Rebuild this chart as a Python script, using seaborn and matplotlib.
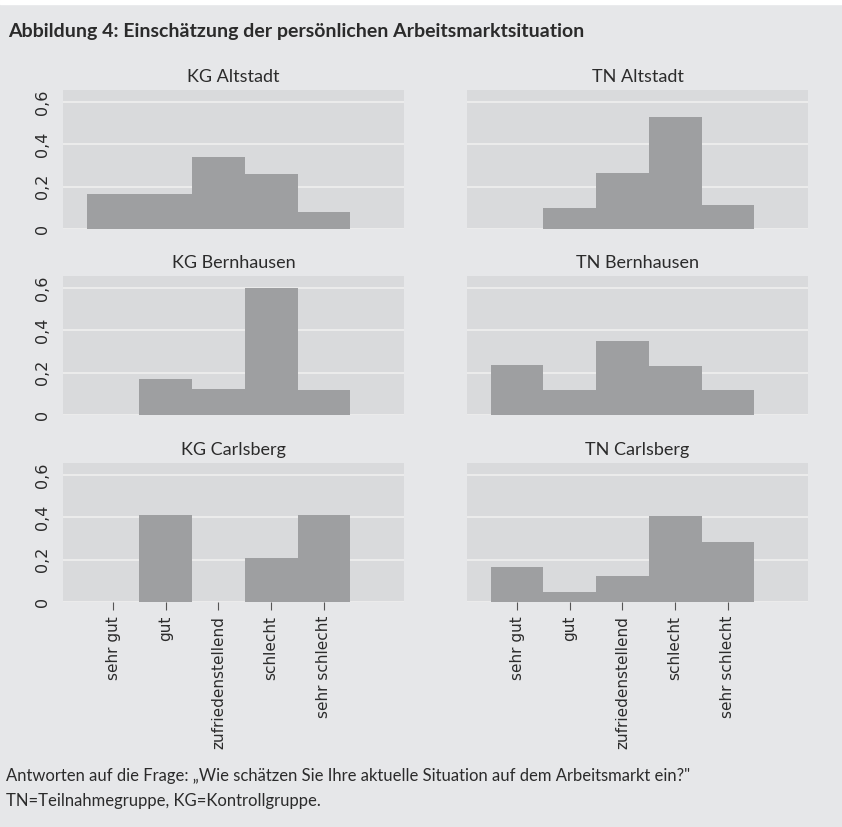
import pandas as pd
import matplotlib
matplotlib.use('Agg')
import matplotlib.pyplot as plt
from matplotlib import font_manager
from matplotlib.ticker import FuncFormatter
import seaborn as sns

# Antwortkategorien
categories = ['sehr gut', 'gut', 'zufriedenstellend', 'schlecht', 'sehr schlecht']

# Anteile je Gruppe
kg_altstadt = [0.165, 0.165, 0.34, 0.26, 0.08]
tn_altstadt = [0.0, 0.10, 0.264, 0.53, 0.113]
kg_bernhausen = [0.0, 0.17, 0.123, 0.60, 0.118]
tn_bernhausen = [0.235, 0.117, 0.348, 0.23, 0.117]
kg_carlsberg = [0.0, 0.41, 0.0, 0.208, 0.41]
tn_carlsberg = [0.165, 0.047, 0.123, 0.406, 0.283]

panels = ['KG Altstadt', 'TN Altstadt', 'KG Bernhausen', 'TN Bernhausen',
          'KG Carlsberg', 'TN Carlsberg']
values = [kg_altstadt, tn_altstadt, kg_bernhausen, tn_bernhausen,
          kg_carlsberg, tn_carlsberg]

rows = []
for name, vals in zip(panels, values):
    for cat, v in zip(categories, vals):
        rows.append({'gruppe': name, 'antwort': cat, 'anteil': v})
data = pd.DataFrame(rows)

fig_bg = '#e6e7e9'
panel_bg = '#d9dadc'
bar_col = '#9e9fa1'
text_col = '#2b2b2b'

installed = {f.name for f in font_manager.fontManager.ttflist}
def pick(*names):
    for n in names:
        if n in installed:
            return n
    return 'DejaVu Sans'

head = pick('Lato', 'Liberation Sans')
tick_font = 'DejaVu Sans'

sns.set_style('white')
plt.rcParams['font.family'] = [tick_font]

g = sns.FacetGrid(data, col='gruppe', col_wrap=2, col_order=panels,
                  sharex=True, sharey=True, height=2, aspect=1.5)
g.map_dataframe(sns.barplot, x='antwort', y='anteil', order=categories,
                width=1.0, color=bar_col, saturation=1, errorbar=None,
                linewidth=0)

fig = g.figure
fig.set_size_inches(8.42, 8.27)
fig.set_dpi(100)
fig.patch.set_facecolor(fig_bg)

W, H = 842.0, 827.0
lefts = [63, 467]
tops = [90, 276, 463]
pw, ph = 341, 139

fmt = FuncFormatter(lambda v, p: '0' if abs(v) < 1e-9 else f'{v:.1f}'.replace('.', ','))

for i, ax in enumerate(g.axes.flat):
    r, c = divmod(i, 2)
    ax.set_position([lefts[c] / W, 1 - (tops[r] + ph) / H, pw / W, ph / H])
    ax.set_facecolor(panel_bg)
    for s in ax.spines.values():
        s.set_visible(False)
    ax.set_xlim(-0.95, 5.52)
    ax.set_ylim(0, 0.657)
    ax.set_yticks([0, 0.2, 0.4, 0.6])
    ax.yaxis.set_major_formatter(fmt)
    ax.grid(axis='y', color='#ececec', linewidth=1.4)
    ax.set_axisbelow(True)
    ax.set_title(panels[i], fontsize=13, color=text_col, family=head, pad=6)
    ax.set_xlabel('')
    ax.set_ylabel('')
    ax.tick_params(axis='y', length=0, pad=9, labelsize=11.5, labelcolor=text_col)
    for lab in ax.get_yticklabels():
        lab.set_rotation(90)
        lab.set_va('center')
    if c == 1:
        ax.tick_params(axis='y', labelleft=False)
    if r == 2:
        ax.tick_params(axis='x', length=6, width=0.8, color='#555555', pad=4,
                       labelsize=11, labelcolor=text_col, labelrotation=90,
                       bottom=True)
    else:
        ax.tick_params(axis='x', bottom=False, labelbottom=False)

# weisser Streifen oben
fig.patches.append(plt.Rectangle((0, 1 - 4 / H), 1, 4 / H, transform=fig.transFigure,
                                 color='white', zorder=-1))

fig.text(8 / W, 1 - 31 / H, 'Abbildung 4: Einschätzung der persönlichen Arbeitsmarktsituation',
         fontsize=14, weight='bold', family=head, color=text_col, va='center')
fig.text(6 / W, 1 - 776 / H,
         'Antworten auf die Frage: \u201eWie schätzen Sie Ihre aktuelle Situation auf dem Arbeitsmarkt ein?"',
         fontsize=12, family=head, color=text_col, va='center')
fig.text(6 / W, 1 - 801 / H, 'TN=Teilnahmegruppe, KG=Kontrollgruppe.',
         fontsize=12, family=head, color=text_col, va='center')

fig.savefig('out.png', dpi=100, facecolor=fig_bg)
